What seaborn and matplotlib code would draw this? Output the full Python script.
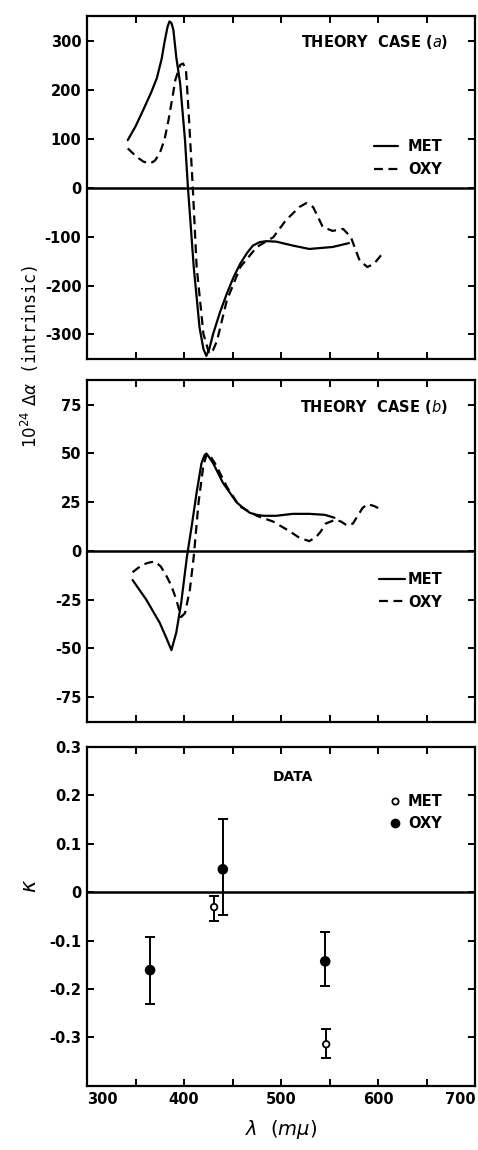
import matplotlib
matplotlib.use("Agg")
import matplotlib.pyplot as plt
from matplotlib.lines import Line2D
import seaborn as sns
import pandas as pd

# Caso teórico (a)
met_a_lam = [342, 350, 358, 366, 372, 377, 380, 383, 385, 387, 389, 392, 396, 401, 404,
             410, 416, 420, 423, 426, 430, 437, 444, 451, 458, 465, 471, 478, 485, 495,
             512, 529, 553, 570]
met_a_val = [98, 126, 160, 195, 225, 265, 300, 330, 341, 338, 324, 268, 214, 98, 2,
             -162, -286, -330, -344, -330, -299, -255, -217, -183, -155, -133, -118, -111,
             -109, -110, -118, -125, -121, -113]
oxy_a_lam = [342, 351, 358, 365, 370, 375, 380, 384, 388, 391, 396, 399, 402, 405, 409,
             413, 420, 426, 430, 434, 444, 458, 475, 492, 505, 519, 526, 533, 543, 553,
             564, 572, 581, 589, 596, 603]
oxy_a_val = [81, 64, 54, 50, 56, 71, 100, 139, 185, 221, 252, 255, 242, 146, 2,
             -162, -299, -340, -332, -313, -231, -162, -121, -101, -66, -39, -31, -39,
             -80, -88, -84, -101, -149, -162, -155, -138]

# Caso teórico (b)
met_b_lam = [347, 354, 361, 368, 375, 382, 387, 392, 397, 403, 408, 413, 418, 421, 423,
             426, 430, 435, 440, 447, 454, 461, 468, 475, 482, 495, 512, 529, 545, 555]
met_b_val = [-15, -20, -25, -31, -37, -45, -51, -42, -27, -3, 13, 30, 45, 49, 50,
             48, 45, 40, 35, 30, 25, 22, 19.5, 18.5, 18, 18, 19, 19, 18.5, 17]
oxy_b_lam = [347, 352, 358, 364, 370, 376, 382, 387, 392, 397, 401, 406, 410, 415, 420,
             423, 425, 428, 433, 444, 457, 475, 492, 509, 518, 523, 529, 536, 541, 546,
             556, 562, 568, 574, 579, 584, 589, 596, 604]
oxy_b_val = [-11, -9, -7, -6, -5.5, -8, -13, -18, -25, -34, -32, -20, -3, 25, 44,
             49, 50, 48, 44, 33, 23, 18, 15, 10, 7, 6, 5, 7, 10, 14,
             16, 15, 13, 14, 18, 22, 24, 23, 21]

# Dados experimentais (kappa)
data_lam = [365, 440, 545.5, 431, 546.5]
data_kappa = [-0.161, 0.047, -0.143, -0.031, -0.314]
data_err_low = [0.069, 0.094, 0.050, 0.028, 0.029]
data_err_up = [0.069, 0.103, 0.060, 0.022, 0.031]
data_sample = ['OXY', 'OXY', 'OXY', 'MET', 'MET']

yticks_a = [-300, -200, -100, 0, 100, 200, 300]
yticks_b = [-75, -50, -25, 0, 25, 50, 75]
yticks_c = [-0.3, -0.2, -0.1, 0, 0.1, 0.2, 0.3]
yticklabels_c = ['-0.3', '-0.2', '-0.1', '0', '0.1', '0.2', '0.3']
xticks = [300, 400, 500, 600, 700]
xticks_minor = [350, 450, 550, 650]

sns.set_style("ticks")
plt.rcParams.update({
    'axes.unicode_minus': False,
    'axes.edgecolor': 'black',
    'xtick.color': 'black',
    'ytick.color': 'black',
    'text.color': 'black',
    'axes.labelcolor': 'black',
})
plt.rcParams['font.family'] = ['DejaVu Sans']

fig = plt.figure(figsize=(4.78, 11.5), dpi=100)
ax_a = fig.add_axes([0.182, 0.688, 0.812, 0.298])
ax_b = fig.add_axes([0.182, 0.372, 0.812, 0.298])
ax_c = fig.add_axes([0.182, 0.0557, 0.812, 0.295])


def estilo(ax, yticks, ylim):
    ax.set_xlim(300, 700)
    ax.set_ylim(*ylim)
    ax.set_xticks(xticks)
    ax.set_xticks(xticks_minor, minor=True)
    ax.set_yticks(yticks)
    ax.tick_params(which='both', direction='in', length=5, width=1.4,
                   top=True, right=True, labelsize=10.5, pad=4)
    for lab in ax.get_yticklabels():
        lab.set_fontweight('bold')
    for s in ax.spines.values():
        s.set_linewidth(1.6)
        s.set_visible(True)
    ax.axhline(0, color='black', lw=1.8, zorder=0)
    ax.set_xlabel('')
    ax.set_ylabel('')


def curvas(ax, met_l, met_v, oxy_l, oxy_v):
    df = pd.concat([
        pd.DataFrame({'lam': met_l, 'val': met_v, 'sample': 'MET'}),
        pd.DataFrame({'lam': oxy_l, 'val': oxy_v, 'sample': 'OXY'}),
    ])
    sns.lineplot(data=df, x='lam', y='val', style='sample',
                 dashes={'MET': '', 'OXY': (4, 2.5)}, color='black', lw=1.6,
                 estimator=None, sort=False, legend=False, ax=ax)


curvas(ax_a, met_a_lam, met_a_val, oxy_a_lam, oxy_a_val)
estilo(ax_a, yticks_a, (-350, 352))
ax_a.set_xticklabels([])
ax_a.text(0.93, 0.924, 'THEORY  CASE ($\\mathit{a}$)', transform=ax_a.transAxes,
          ha='right', va='center', fontsize=10.5, fontweight='bold')
h_lines = [Line2D([], [], color='black', lw=1.6),
           Line2D([], [], color='black', lw=1.6, dashes=(4, 2.5))]
ax_a.legend(h_lines, ['MET', 'OXY'], loc='center right', bbox_to_anchor=(0.95, 0.586),
            frameon=False, handlelength=1.6, handletextpad=0.7, labelspacing=0.5,
            prop=dict(weight='bold', size=10.5))

curvas(ax_b, met_b_lam, met_b_val, oxy_b_lam, oxy_b_val)
estilo(ax_b, yticks_b, (-88, 88))
ax_b.set_xticklabels([])
ax_b.text(0.93, 0.921, 'THEORY  CASE ($\\mathit{b}$)', transform=ax_b.transAxes,
          ha='right', va='center', fontsize=10.5, fontweight='bold')
ax_b.legend(h_lines, ['MET', 'OXY'], loc='center right', bbox_to_anchor=(0.95, 0.383),
            frameon=False, handlelength=1.8, handletextpad=0.2, labelspacing=0.5,
            prop=dict(weight='bold', size=10.5))

df_c = pd.DataFrame({'lam': data_lam, 'kappa': data_kappa, 'sample': data_sample})
ax_c.errorbar(data_lam, data_kappa, yerr=[data_err_low, data_err_up], fmt='none',
              ecolor='black', elinewidth=1.4, capsize=3.5, capthick=1.4, zorder=2)
sns.scatterplot(data=df_c, x='lam', y='kappa', hue='sample', size='sample',
                palette={'MET': 'white', 'OXY': 'black'}, sizes={'MET': 22, 'OXY': 40},
                edgecolor='black', linewidth=1.3, legend=False, zorder=3, ax=ax_c)
estilo(ax_c, yticks_c, (-0.4, 0.3))
ax_c.set_yticklabels(yticklabels_c, fontweight='bold')
ax_c.set_xticklabels([str(t) for t in xticks], fontweight='bold')
xl = ax_c.get_xticklabels()
xl[0].set_ha('left')
xl[-1].set_ha('right')
ax_c.text(0.531, 0.912, 'DATA', transform=ax_c.transAxes, ha='center', va='center',
          fontsize=10, fontweight='bold')
h_pts = [Line2D([], [], ls='', marker='o', ms=4.5, mfc='white', mec='black', mew=1.3),
         Line2D([], [], ls='', marker='o', ms=6, mfc='black', mec='black')]
ax_c.legend(h_pts, ['MET', 'OXY'], loc='center right', bbox_to_anchor=(0.95, 0.805),
            frameon=False, handlelength=0.6, handletextpad=0.6, labelspacing=0.5,
            prop=dict(weight='bold', size=10.5))
ax_c.set_xlabel(r'$\lambda\ \ (m\mu)$', fontsize=14, labelpad=8)

fig.text(0.063, 0.69, r'$10^{24}\ \Delta\alpha$ (intrinsic)', rotation=90,
         ha='center', va='center', fontsize=12, family='DejaVu Sans Mono')
fig.text(0.063, 0.23, r'$\kappa$', rotation=90, ha='center', va='center', fontsize=15)

fig.savefig('out.png', dpi=100)
